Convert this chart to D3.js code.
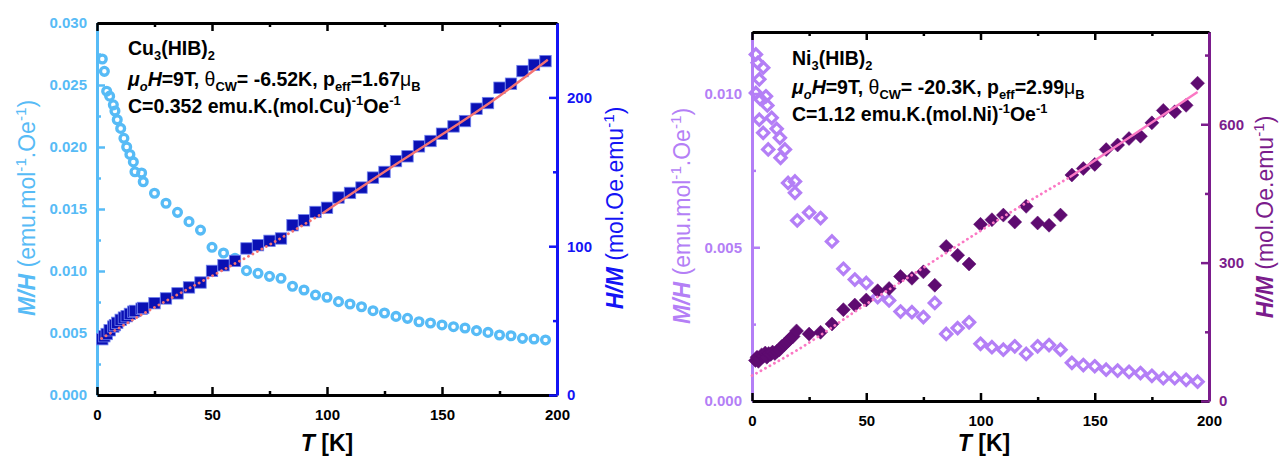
<!DOCTYPE html>
<html><head><meta charset="utf-8">
<script src="https://cdn.jsdelivr.net/npm/d3@7"></script>
<style>body{margin:0;background:#fff}svg{display:block}text{font-family:"Liberation Sans",Arial,sans-serif}</style>
</head><body><svg id="c" width="1280" height="459"></svg>
<script>
// ---------- DATA ----------
const xTicks = [0, 50, 100, 150, 200];
const xMinor = [25, 75, 125, 175];

// Cu3(HIB)2
const cuTemp = [2.3,3.2,4.2,5.5,7.1,7.8,8.8,10.3,11.7,12.9,14.3,15.8,16.5,19.4,20.1,25,30,35,40,45,50,55,60,65,70,75,80,85,90,95,100,105,110,115,120,125,130,135,140,145,150,155,160,165,170,175,180,185,190,195];
const cuMH = [0.0271,0.0261,0.0245,0.0241,0.0234,0.0229,0.0222,0.0215,0.0207,0.0200,0.0194,0.0188,0.0180,0.0179,0.0172,0.01627,0.01546,0.01473,0.01398,0.0133,0.01191,0.01145,0.01102,0.01003,0.00981,0.00957,0.00941,0.00877,0.00847,0.00806,0.00788,0.00753,0.00734,0.00712,0.0068,0.00661,0.00634,0.00618,0.00591,0.00581,0.00565,0.00551,0.0054,0.00519,0.00505,0.00484,0.00478,0.00457,0.00452,0.00444];
const cuHM = [37.5,39.5,41,43.5,46,47,48.5,50.5,52,53,54.5,56,56.5,58,58.5,61.7,64.9,68.3,72.3,75.6,83.4,87.2,90.1,98.5,100.7,103.6,105.2,114.1,117.4,123,125.8,132.7,135.8,139.4,146.1,149.9,157.2,160.4,167.1,170.7,175.6,180.5,184.1,192.4,196.2,206.5,209.2,217.7,221.9,224.4];
const cuFitT = [2,20,50,75,98,125,150,175,196];
const cuFitHM = [38,54.5,80,101,122,150,175,201,225.3];
const cuFitSolidFrom = 98;
const cuLeftTicks = [0,0.005,0.010,0.015,0.020,0.025,0.030];
const cuLeftMinor = [0.0025,0.0075,0.0125,0.0175,0.0225,0.0275];
const cuRightTicks = [0,100,200];
const cuRightMinor = [50,150,250];

// Ni3(HIB)2
const niTempOpen = [1.7,1.7,2.5,3.2,3.2,3.5,4.9,4.9,6.1,6.7,7.1,8.6,10.8,12.2,12.5,14.4,15.8,18.8,18.8,19.8,25,30,35,40,45,50,55,60,65,70,75,80,85,90,95,100,105,110,115,120,125,130,135,140,145,150,155,160,165,170,175,180,185,190,195];
const niMH = [0.01127,0.01002,0.0110,0.01046,0.00915,0.00983,0.01084,0.00872,0.00991,0.00961,0.00818,0.00921,0.00885,0.00856,0.00791,0.00818,0.00709,0.00714,0.00677,0.00587,0.00613,0.00595,0.00519,0.0043,0.00395,0.00384,0.00338,0.00327,0.00291,0.00289,0.00273,0.00319,0.00218,0.00237,0.00256,0.00186,0.00175,0.00167,0.00178,0.00153,0.00178,0.00182,0.00167,0.00124,0.00117,0.00113,0.00102,0.00099,0.00095,0.00091,0.00082,0.00074,0.00074,0.00069,0.00063];
const niTempFilled = [1.5,2.2,2.8,3.5,4.2,5,5.8,6.5,7.3,8.2,9,10,11,12,13,14,15,16,17,18,19.5,25,30,35,40,45,50,55,60,65,70,75,80,85,90,95,100,105,110,115,120,125,130,135,140,145,150,155,160,165,170,175,180,185,190,195];
const niHM = [88,95,86,92,100,97,104,95,103,101,106,103,108,111,118,122,126,131,137,140,152,145,149,167,198,208,219,239,244,270,266,280,251,335,316,297,383,393,403,388,422,386,381,403,490,504,513,545,555,569,574,603,630,627,641,689];
const niFitT = [0,20,50,75,100,139,195];
const niFitHM = [55,111,210,289,369,485,670];
const niFitSolidFrom = 139;
const niLeftTicks = [0,0.005,0.010];
const niLeftMinor = [0.0025,0.0075];
const niRightTicks = [0,300,600];
const niRightMinor = [150,450,750];

// ---------- DRAWING ----------
const svg = d3.select('#c');

function rich(g, segs, size){
  const t = g.append('text').attr('font-size', size).attr('font-weight','bold');
  let off = 0;
  segs.forEach(([str, st='']) => {
    const f = st.split(' ');
    const sub = f.includes('sub'), sup = f.includes('sup');
    const target = sub ? size*0.28 : sup ? -size*0.40 : 0;
    const ts = t.append('tspan').text(str).attr('dy', target - off);
    off = target;
    if (sub || sup) ts.attr('font-size', size*0.66);
    if (f.includes('i')) ts.attr('font-style','italic');
    if (f.includes('n')) ts.attr('font-weight','normal');
  });
  return t;
}

function styleAxis(g, color, sw){
  g.select('.domain').attr('stroke', color).attr('stroke-width', 3);
  g.selectAll('.tick line').attr('stroke', color).attr('stroke-width', sw);
  g.selectAll('.tick text').attr('fill', color).attr('font-size', 15).attr('font-weight','bold')
    .attr('font-family','"Liberation Sans",Arial,sans-serif');
}

function panel(c){
  const x = d3.scaleLinear().domain([0,200]).range([c.x0, c.x1]);
  const yL = d3.scaleLinear().domain(c.leftDom).range([c.yBot, c.yTop]);
  const yR = d3.scaleLinear().domain(c.rightDom).range([c.yBot, c.yTop]);
  const g = svg.append('g');

  // left axis
  const la = g.append('g').attr('transform', `translate(${c.x0},0)`)
    .call(d3.axisLeft(yL).tickValues(c.leftTicks).tickSize(-8).tickSizeOuter(0).tickPadding(10).tickFormat(d3.format('.3f')));
  styleAxis(la, c.leftColor, 2.5);
  const lm = g.append('g').attr('transform', `translate(${c.x0},0)`)
    .call(d3.axisLeft(yL).tickValues(c.leftMinor).tickSize(-4).tickFormat(''));
  lm.select('.domain').remove(); styleAxis(lm, c.leftColor, 2.5);

  // bottom & top axes
  const ba = g.append('g').attr('transform', `translate(0,${c.yBot})`)
    .call(d3.axisBottom(x).tickValues(xTicks).tickSize(-8).tickSizeOuter(0).tickPadding(14));
  styleAxis(ba, '#000', 2.5);
  const bm = g.append('g').attr('transform', `translate(0,${c.yBot})`)
    .call(d3.axisBottom(x).tickValues(xMinor).tickSize(-4).tickFormat(''));
  bm.select('.domain').remove(); styleAxis(bm, '#000', 2.5);
  const ta = g.append('g').attr('transform', `translate(0,${c.yTop})`)
    .call(d3.axisTop(x).tickValues(xTicks).tickSize(-8).tickSizeOuter(0).tickFormat(''));
  styleAxis(ta, '#000', 2.5);
  const tm = g.append('g').attr('transform', `translate(0,${c.yTop})`)
    .call(d3.axisTop(x).tickValues(xMinor).tickSize(-4).tickFormat(''));
  tm.select('.domain').remove(); styleAxis(tm, '#000', 2.5);

  // right axis
  const ra = g.append('g').attr('transform', `translate(${c.x1},0)`)
    .call(d3.axisRight(yR).tickValues(c.rightTicks).tickSize(-8).tickSizeOuter(0).tickPadding(10).tickFormat(d3.format('d')));
  styleAxis(ra, c.rightColor, 2.5);
  const rm = g.append('g').attr('transform', `translate(${c.x1},0)`)
    .call(d3.axisRight(yR).tickValues(c.rightMinor.filter(v => v < c.rightDom[1])).tickSize(-4).tickFormat(''));
  rm.select('.domain').remove(); styleAxis(rm, c.rightColor, 2.5);

  // series
  c.drawMarks(g, x, yL, yR);

  // fit line
  const pts = c.fitT.map((t,i) => [t, c.fitV[i]]);
  const line = d3.line().x(d => x(d[0])).y(d => yR(d[1])).curve(d3.curveMonotoneX);
  g.append('path').attr('d', line(pts.filter(d => d[0] <= c.solidFrom)))
    .attr('fill','none').attr('stroke', c.fitColor).attr('stroke-width', 2.8)
    .attr('stroke-linecap','round').attr('stroke-dasharray','0.1 5');
  g.append('path').attr('d', line(pts.filter(d => d[0] >= c.solidFrom)))
    .attr('fill','none').attr('stroke', c.fitColor).attr('stroke-width', 2.4);

  // axis titles
  rich(g, [['T','i'],[' [K]']], 23).attr('text-anchor','middle')
    .attr('x', c.xLabelX).attr('y', 451).attr('fill','#000');
  const lt = g.append('g').attr('transform', `translate(${c.leftTitleX},${c.leftTitleY}) rotate(-90)`);
  rich(lt, [['M/H','i'],[' (emu.mol','n'],['-1','sup n'],['.Oe','n'],['-1','sup n'],[')','n']], 23)
    .attr('text-anchor','middle').attr('fill', c.leftColor);
  const rt = g.append('g').attr('transform', `translate(${c.rightTitleX},${c.rightTitleY}) rotate(-90)`);
  rich(rt, [['H/M','i'],[' (mol.Oe.emu','n'],['-1','sup n'],[')','n']], 23)
    .attr('text-anchor','middle').attr('fill', c.rightColor);

  // annotation
  c.notes.forEach((segs, i) => {
    rich(g, segs, 19.5).attr('x', c.noteX).attr('y', c.noteY[i]).attr('fill','#000');
  });
}

function diamond(cx, cy, r){ return `M${cx},${cy-r}L${cx+r},${cy}L${cx},${cy+r}L${cx-r},${cy}Z`; }

panel({
  x0: 97, x1: 557, yTop: 23, yBot: 395,
  leftDom: [0, 0.030], rightDom: [0, 250],
  leftTicks: cuLeftTicks, leftMinor: cuLeftMinor,
  rightTicks: cuRightTicks, rightMinor: cuRightMinor,
  leftColor: '#57bbf6', rightColor: '#1414f5',
  fitT: cuFitT, fitV: cuFitHM, solidFrom: cuFitSolidFrom, fitColor: '#f47272',
  xLabelX: 327, leftTitleX: 35, leftTitleY: 208, rightTitleX: 623, rightTitleY: 208,
  noteX: 128, noteY: [55, 86, 113],
  notes: [
    [['Cu'],['3','sub'],['(HIB)'],['2','sub']],
    [['μ','i'],['o','sub i'],['H','i'],['=9T, '],['θ','n'],['CW','sub'],['= -6.52K, p'],['eff','sub'],['=1.67'],['μ','n'],['B','sub']],
    [['C=0.352 emu.K.(mol.Cu)'],['-1','sup'],['Oe'],['-1','sup']]
  ],
  drawMarks: (g, x, yL, yR) => {
    g.append('g').selectAll('circle').data(cuTemp.map((t,i) => [t, cuMH[i]])).join('circle')
      .attr('cx', d => x(d[0])).attr('cy', d => yL(d[1])).attr('r', 3.9)
      .attr('fill','none').attr('stroke','#57bbf6').attr('stroke-width', 3.3);
    g.append('g').selectAll('rect').data(cuTemp.map((t,i) => [t, cuHM[i]])).join('rect')
      .attr('x', d => x(d[0]) - 5.7).attr('y', d => yR(d[1]) - 5.7).attr('width', 11.4).attr('height', 11.4)
      .attr('fill','#0a10b4').attr('stroke','#7080ee').attr('stroke-width', 0.8);
  }
});

panel({
  x0: 752, x1: 1209, yTop: 32, yBot: 401,
  leftDom: [0, 0.012], rightDom: [0, 800],
  leftTicks: niLeftTicks, leftMinor: niLeftMinor,
  rightTicks: niRightTicks, rightMinor: niRightMinor,
  leftColor: '#b47ff6', rightColor: '#7b1c8c',
  fitT: niFitT, fitV: niFitHM, solidFrom: niFitSolidFrom, fitColor: '#fb78c4',
  xLabelX: 984, leftTitleX: 690, leftTitleY: 216, rightTitleX: 1273, rightTitleY: 217,
  noteX: 792, noteY: [65, 94, 121],
  notes: [
    [['Ni'],['3','sub'],['(HIB)'],['2','sub']],
    [['μ','i'],['o','sub i'],['H','i'],['=9T, '],['θ','n'],['CW','sub'],['= -20.3K, p'],['eff','sub'],['=2.99'],['μ','n'],['B','sub']],
    [['C=1.12 emu.K.(mol.Ni)'],['-1','sup'],['Oe'],['-1','sup']]
  ],
  drawMarks: (g, x, yL, yR) => {
    g.append('g').selectAll('path').data(niTempOpen.map((t,i) => [t, niMH[i]])).join('path')
      .attr('d', d => diamond(x(d[0]), yL(d[1]), 5.6))
      .attr('fill','none').attr('stroke','#b47ff6').attr('stroke-width', 3.2);
    g.append('g').selectAll('path').data(niTempFilled.map((t,i) => [t, niHM[i]])).join('path')
      .attr('d', d => diamond(x(d[0]), yR(d[1]), 7))
      .attr('fill','#5e0b70').attr('stroke','#5e0b70').attr('stroke-width', 0.5);
  }
});
</script></body></html>
